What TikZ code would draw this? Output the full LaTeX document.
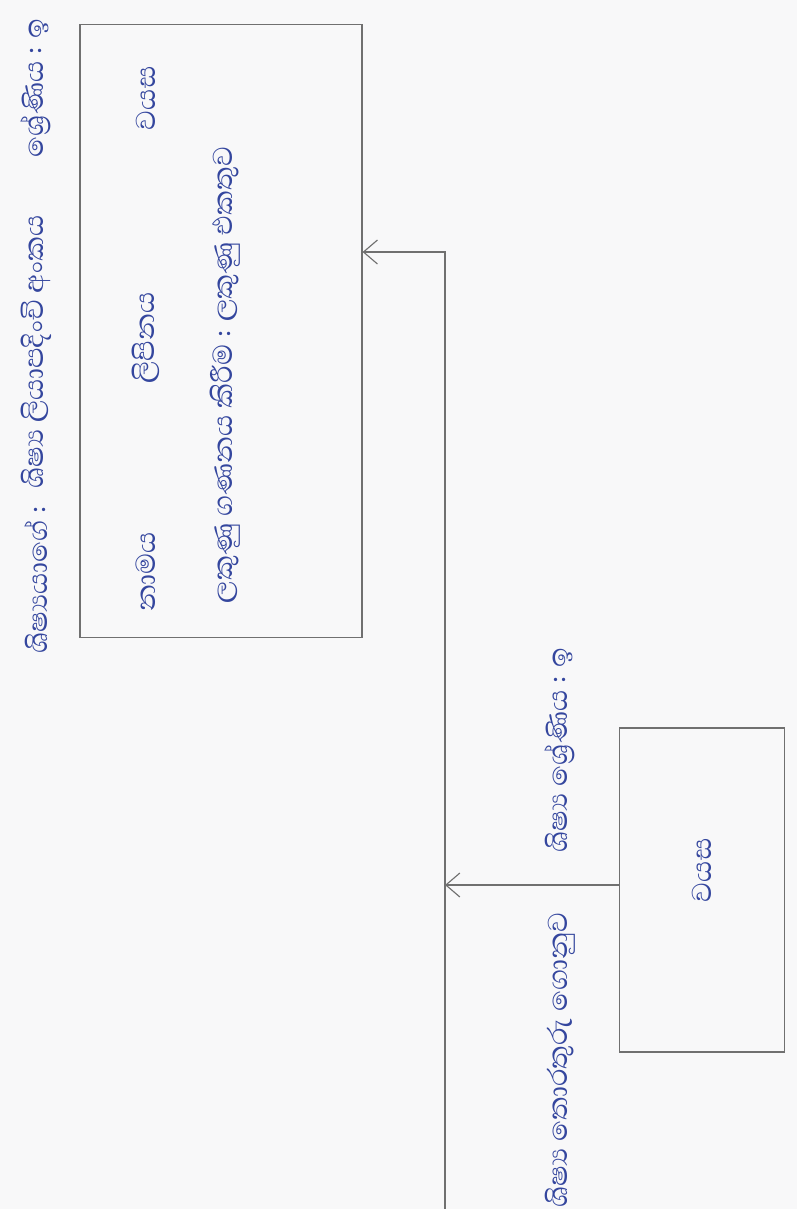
\documentclass[tikz,border=0pt]{standalone}
\usepackage{fontspec}
\newfontfamily\sinhala[Script=Sinhala]{Abhaya Libre}
\usetikzlibrary{arrows.meta}
\definecolor{ink}{RGB}{52,70,158}
\definecolor{pencil}{RGB}{112,112,112}
\definecolor{paper}{RGB}{248,248,249}

\begin{document}
\begin{tikzpicture}[x=0.025cm,y=-0.025cm,
  txt/.style={rotate=90,font=\sinhala\fontsize{25}{28}\selectfont,text=ink,inner sep=0pt},
  box/.style={draw=pencil,line width=0.8pt,inner sep=0pt},
  wire/.style={draw=pencil,line width=0.8pt},
  ar/.style={wire,-{Straight Barb[length=3.5mm,width=6mm]}}]
  \fill[paper] (0,0) rectangle (797,1209);
  \useasboundingbox (0,0) rectangle (797,1209);
  % boxes
  \node[box,minimum width=7.05cm,minimum height=15.3cm] (cls) at (221,331) {};
  \node[box,minimum width=4.12cm,minimum height=8.1cm] (sub) at (702,890) {};
  % titles
  \node[txt] (clsA) at (36,580) {ශිෂ්‍යයාගේ :};
  \node[txt] (clsB) at (36,352) {ශිෂ්‍ය ලියාපදිංචි අංකය};
  \node[txt] (clsC) at (36,88) {ශ්‍රේණිය :  ඉ};
  \node[txt] (subA) at (560,1060) {ශිෂ්‍ය තොරතුරු ගොනුව};
  \node[txt] (subB) at (560,750) {ශිෂ්‍ය ශ්‍රේණිය :  ඉ};
  % attributes
  \node[txt] (atr1) at (146,572) {නාමය};
  \node[txt] (atr2) at (146,338) {ලිපිනය};
  \node[txt] (atr3) at (146,98) {වයස};
  \node[txt] (opr) at (225,375) {ලකුණු ගණනය කිරීම : ලකුණු එකතුව};
  \node[txt] (satr) at (702,870) {වයස};
  % connectors
  \coordinate (bend) at (445,252);
  \coordinate (tail) at (445,1209);
  \draw[ar] (tail) -- (bend) -- (bend -| cls.east);
  \draw[ar] (sub.west |- 0,885) -- (tail |- 0,885);
\end{tikzpicture}
\end{document}
